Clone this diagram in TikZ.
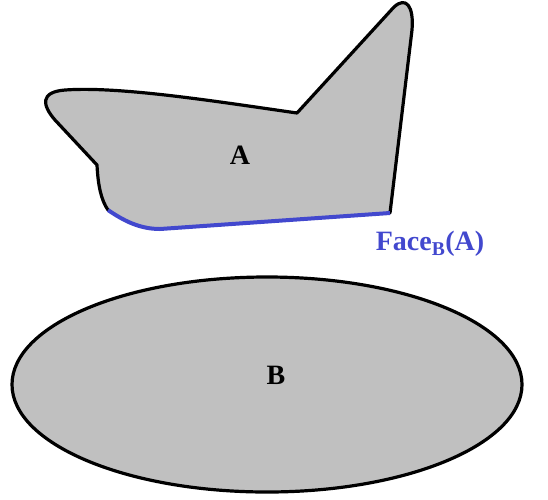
\documentclass[tikz,border=0pt]{standalone}
\usepackage{fontspec}
\setmainfont{Liberation Serif}
\definecolor{shapegray}{RGB}{192,192,192}
\definecolor{faceblue}{RGB}{66,72,206}
\tikzset{
  region/.style={fill=shapegray, draw=none},
  outline/.style={draw=black, line width=3.2pt, line join=round, line cap=round},
  faceline/.style={draw=faceblue, line width=4pt, line cap=butt},
  lbl/.style={font=\bfseries\fontsize{28}{32}\selectfont, text=black, inner sep=0pt},
  facelbl/.style={font=\bfseries\fontsize{28}{32}\selectfont, text=faceblue, inner sep=0pt}
}
\begin{document}
\begin{tikzpicture}[x=1pt,y=-1pt]
\useasboundingbox (0,0) rectangle (548,499);
% shape A
\coordinate (p1) at (108,210);
\coordinate (p2) at (160,229);
\coordinate (p3) at (390,213);
\coordinate (p4) at (412,30);
\coordinate (p5) at (394,7);
\coordinate (p6) at (297,113);
\coordinate (p7) at (65,90);
\coordinate (p8) at (55,120);
\coordinate (p9) at (97,165);
\path[region] (p1) .. controls (124,221) and (140,229) .. (p2) -- (p3) -- (p4)
  .. controls (414,6) and (406,-4) .. (p5) -- (p6)
  .. controls (220,102) and (120,86) .. (p7)
  .. controls (40,92) and (42,105) .. (p8) -- (p9)
  .. controls (98,185) and (101,200) .. (p1) -- cycle;
\draw[outline] (p3) -- (p4)
  .. controls (414,6) and (406,-4) .. (p5) -- (p6)
  .. controls (220,102) and (120,86) .. (p7)
  .. controls (40,92) and (42,105) .. (p8) -- (p9)
  .. controls (98,185) and (101,200) .. (p1);
\draw[faceline] (p1) .. controls (124,221) and (140,229) .. (p2) -- (p3);
\node[lbl] (A) at (240,155) {A};
\node[facelbl] (face) at (430,244) {Face\textsubscript{B}(A)};
% shape B
\coordinate (bc) at (267,384.5);
\draw[region, outline] (bc) ellipse [x radius=255, y radius=107.5];
\node[lbl] (B) at (276,375) {B};
\end{tikzpicture}
\end{document}
